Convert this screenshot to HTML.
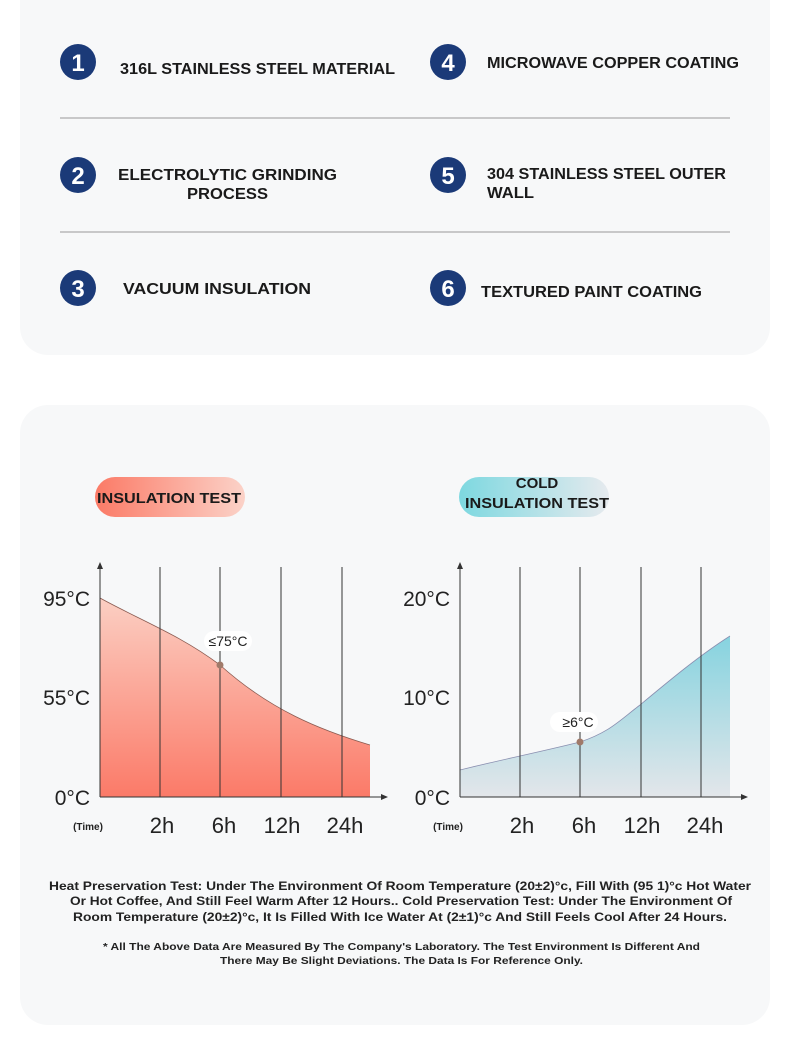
<!DOCTYPE html>
<html><head><meta charset="utf-8"><style>
html,body{margin:0;padding:0;background:#fff;}
svg{display:block;font-family:"Liberation Sans",sans-serif;}
</style></head><body>
<svg width="790" height="1046" viewBox="0 0 790 1046" xmlns="http://www.w3.org/2000/svg">
<defs>
<linearGradient id="pr" x1="0" y1="0" x2="1" y2="0"><stop offset="0" stop-color="#fb7a66"/><stop offset="1" stop-color="#fbd2c8"/></linearGradient>
<linearGradient id="pb" x1="0" y1="0" x2="1" y2="0"><stop offset="0" stop-color="#7dd8e0"/><stop offset="1" stop-color="#e6eaee"/></linearGradient>
<linearGradient id="fr" x1="0" y1="0" x2="0" y2="1"><stop offset="0" stop-color="#fbcfc3"/><stop offset="1" stop-color="#fb7a68"/></linearGradient>
<linearGradient id="fb" x1="0" y1="0" x2="0" y2="1"><stop offset="0" stop-color="#86d3df"/><stop offset="1" stop-color="#e3e6ea"/></linearGradient>
</defs>
<rect x="20" y="-30" width="750" height="385" rx="28" fill="#f7f8f9"/>
<rect x="20" y="405" width="750" height="620" rx="28" fill="#f7f8f9"/>
<g fill="#1b3a78">
<circle cx="78" cy="62" r="18"/><circle cx="78" cy="175" r="18"/><circle cx="78" cy="288" r="18"/>
<circle cx="448" cy="62" r="18"/><circle cx="448" cy="175" r="18"/><circle cx="448" cy="288" r="18"/>
</g>
<g fill="#fff" font-weight="bold" font-size="24" text-anchor="middle">
<text x="78" y="71">1</text><text x="78" y="184">2</text><text x="78" y="297">3</text>
<text x="448" y="71">4</text><text x="448" y="184">5</text><text x="448" y="297">6</text>
</g>
<g stroke="#999" stroke-width="1"><line x1="60" y1="118" x2="730" y2="118"/><line x1="60" y1="232" x2="730" y2="232"/></g>
<g fill="#1a1a1a" font-weight="bold" font-size="16">
<text x="120" y="74" textLength="275" lengthAdjust="spacingAndGlyphs">316L STAINLESS STEEL MATERIAL</text>
<text x="487" y="68" textLength="252" lengthAdjust="spacingAndGlyphs">MICROWAVE COPPER COATING</text>
<text x="118" y="180" textLength="219" lengthAdjust="spacingAndGlyphs">ELECTROLYTIC GRINDING</text>
<text x="187" y="199" textLength="81" lengthAdjust="spacingAndGlyphs">PROCESS</text>
<text x="487" y="179" textLength="239" lengthAdjust="spacingAndGlyphs">304 STAINLESS STEEL OUTER</text>
<text x="487" y="198" textLength="47" lengthAdjust="spacingAndGlyphs">WALL</text>
<text x="123" y="294" textLength="188" lengthAdjust="spacingAndGlyphs">VACUUM INSULATION</text>
<text x="481" y="297" textLength="221" lengthAdjust="spacingAndGlyphs">TEXTURED PAINT COATING</text>
</g>
<rect x="95" y="477" width="150" height="40" rx="20" fill="url(#pr)"/>
<rect x="459" y="477" width="150" height="40" rx="20" fill="url(#pb)"/>
<g fill="#1a1a1a" font-weight="bold" font-size="15">
<text x="97" y="503" textLength="144" lengthAdjust="spacingAndGlyphs">INSULATION TEST</text>
<text x="537" y="488" text-anchor="middle">COLD</text>
<text x="465" y="508" textLength="144" lengthAdjust="spacingAndGlyphs">INSULATION TEST</text>
</g>
<!-- left chart -->
<path d="M100,598 C140,620 180,635 220,665 C270,710 320,730 370,745 L370,797 L100,797 Z" fill="url(#fr)"/>
<path d="M100,598 C140,620 180,635 220,665 C270,710 320,730 370,745" fill="none" stroke="#8a5a50" stroke-width="0.8"/>
<g stroke="#333" stroke-width="1"><line x1="160" y1="567" x2="160" y2="797"/><line x1="220" y1="567" x2="220" y2="797"/><line x1="281" y1="567" x2="281" y2="797"/><line x1="342" y1="567" x2="342" y2="797"/>
<line x1="100" y1="566" x2="100" y2="797"/><line x1="100" y1="797" x2="384" y2="797"/></g>
<path d="M100,562 L97,569 L103,569 Z M388,797 L381,794 L381,800 Z" fill="#333"/>
<rect x="204" y="631" width="48" height="20" rx="10" fill="#fff"/>
<text x="228" y="646" font-size="14" text-anchor="middle" fill="#222">≤75°C</text>
<circle cx="220" cy="665" r="3.5" fill="#a07a6a"/>
<!-- right chart -->
<path d="M460,770 C500,760 540,752 580,742 C610,732 620,720 640,705 C670,680 700,655 730,636 L730,797 L460,797 Z" fill="url(#fb)"/>
<path d="M460,770 C500,760 540,752 580,742 C610,732 620,720 640,705 C670,680 700,655 730,636" fill="none" stroke="#8a8fb0" stroke-width="0.8"/>
<g stroke="#333" stroke-width="1"><line x1="520" y1="567" x2="520" y2="797"/><line x1="580" y1="567" x2="580" y2="797"/><line x1="641" y1="567" x2="641" y2="797"/><line x1="701" y1="567" x2="701" y2="797"/>
<line x1="460" y1="566" x2="460" y2="797"/><line x1="460" y1="797" x2="744" y2="797"/></g>
<path d="M460,562 L457,569 L463,569 Z M748,797 L741,794 L741,800 Z" fill="#333"/>
<rect x="550" y="712" width="48" height="20" rx="10" fill="#fff"/>
<text x="578" y="727" font-size="14" text-anchor="middle" fill="#222">≥6°C</text>
<circle cx="580" cy="742" r="3.5" fill="#a07a6a"/>
<g fill="#222" font-size="21" text-anchor="end">
<text x="90" y="606">95°C</text><text x="90" y="705">55°C</text><text x="90" y="805">0°C</text>
<text x="450" y="606">20°C</text><text x="450" y="705">10°C</text><text x="450" y="805">0°C</text>
</g>
<g fill="#222" font-size="22" text-anchor="middle">
<text x="162" y="833">2h</text><text x="224" y="833">6h</text><text x="282" y="833">12h</text><text x="345" y="833">24h</text>
<text x="522" y="833">2h</text><text x="584" y="833">6h</text><text x="642" y="833">12h</text><text x="705" y="833">24h</text>
</g>
<g fill="#222" font-size="10" font-weight="bold" text-anchor="middle"><text x="88" y="830">(Time)</text><text x="448" y="830">(Time)</text></g>
<g fill="#222" font-weight="bold" font-size="12">
<text x="49" y="890" textLength="702" lengthAdjust="spacingAndGlyphs">Heat Preservation Test: Under The Environment Of Room Temperature (20±2)°c, Fill With (95 1)°c Hot Water</text>
<text x="70" y="905" textLength="662" lengthAdjust="spacingAndGlyphs">Or Hot Coffee, And Still Feel Warm After 12 Hours.. Cold Preservation Test: Under The Environment Of</text>
<text x="73" y="921" textLength="654" lengthAdjust="spacingAndGlyphs">Room Temperature (20±2)°c, It Is Filled With Ice Water At (2±1)°c And Still Feels Cool After 24 Hours.</text>
</g>
<g fill="#222" font-weight="bold" font-size="10.5">
<text x="103" y="950" textLength="597" lengthAdjust="spacingAndGlyphs">* All The Above Data Are Measured By The Company's Laboratory. The Test Environment Is Different And</text>
<text x="220" y="964" textLength="363" lengthAdjust="spacingAndGlyphs">There May Be Slight Deviations. The Data Is For Reference Only.</text>
</g>
</svg>
</body></html>
